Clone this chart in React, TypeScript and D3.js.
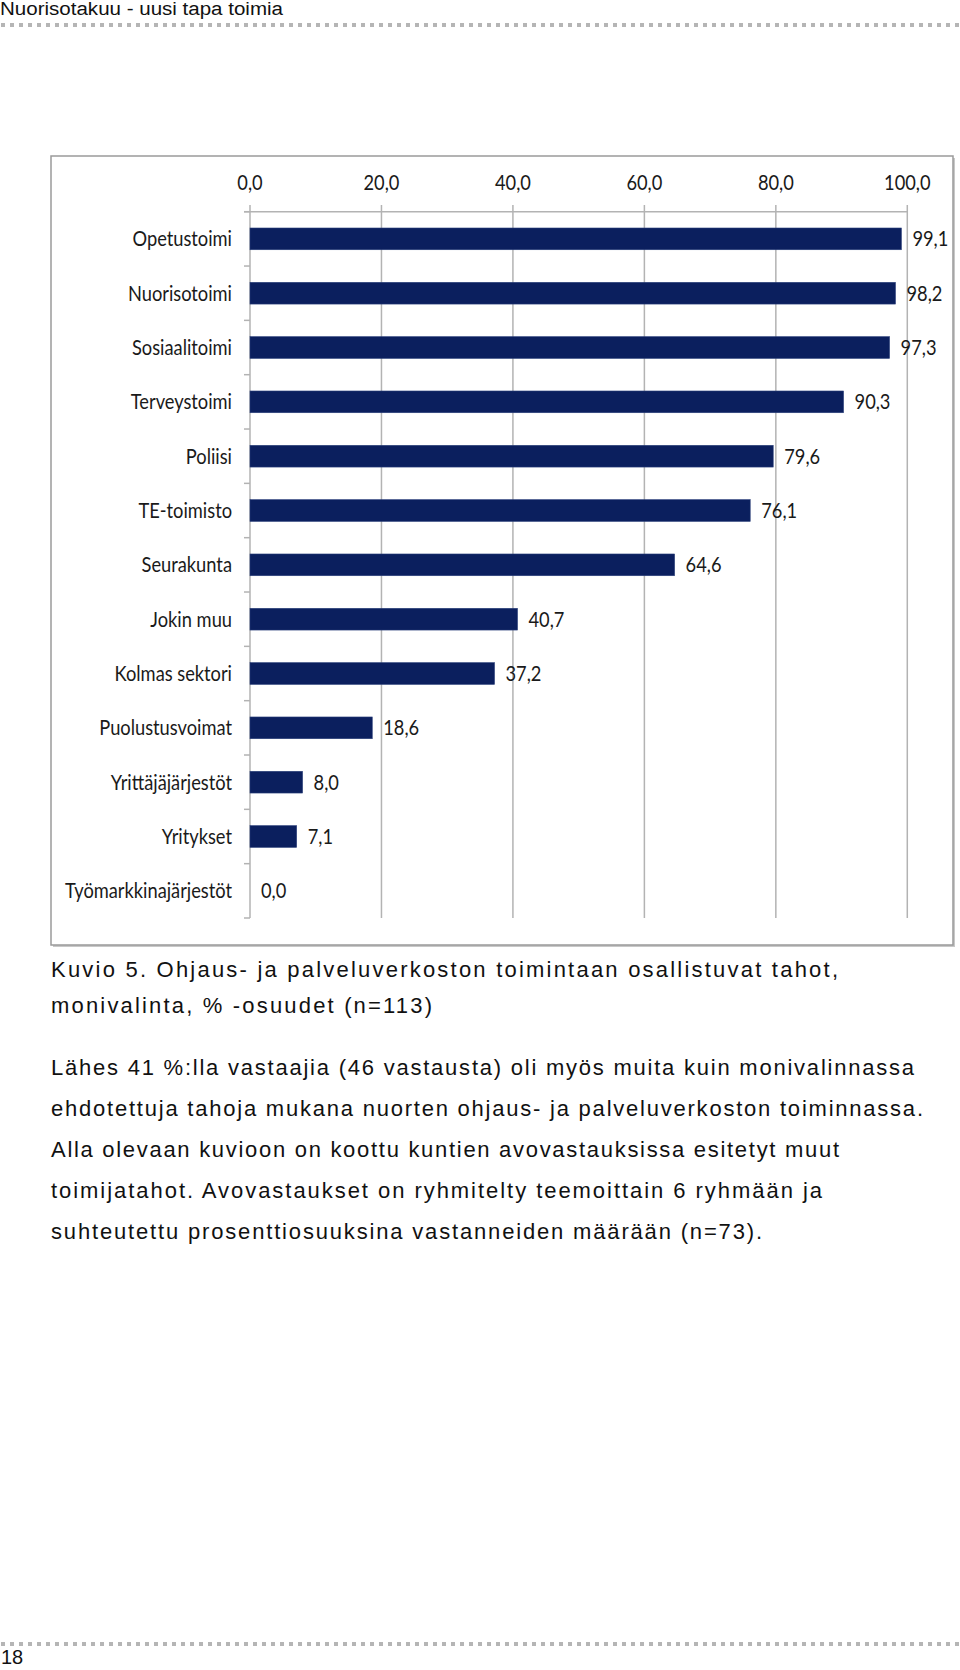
import React from "react";
import * as d3 from "d3";

const categories = [
  "Opetustoimi",
  "Nuorisotoimi",
  "Sosiaalitoimi",
  "Terveystoimi",
  "Poliisi",
  "TE-toimisto",
  "Seurakunta",
  "Jokin muu",
  "Kolmas sektori",
  "Puolustusvoimat",
  "Yrittäjäjärjestöt",
  "Yritykset",
  "Työmarkkinajärjestöt",
];
const values = [99.1, 98.2, 97.3, 90.3, 79.6, 76.1, 64.6, 40.7, 37.2, 18.6, 8.0, 7.1, 0.0];
const tickValues = [0, 20, 40, 60, 80, 100];

const headerText = "Nuorisotakuu - uusi tapa toimia";
const captionLines = [
  "Kuvio 5. Ohjaus- ja palveluverkoston toimintaan osallistuvat tahot,",
  "monivalinta, % -osuudet (n=113)",
];
const captionWidths = [787, 381];
const paragraphLines = [
  "Lähes 41 %:lla vastaajia (46 vastausta) oli myös muita kuin monivalinnassa",
  "ehdotettuja tahoja mukana nuorten ohjaus- ja palveluverkoston toiminnassa.",
  "Alla olevaan kuvioon on koottu kuntien avovastauksissa esitetyt muut",
  "toimijatahot. Avovastaukset on ryhmitelty teemoittain 6 ryhmään ja",
  "suhteutettu prosenttiosuuksina vastanneiden määrään (n=73).",
];
const paragraphWidths = [863, 872, 788, 771, 711];
const pageNumber = "18";

const fmt = (v: number) => d3.format(".1f")(v).replace(".", ",");

const W = 960;
const H = 1670;

export default function App() {
  const x = d3.scaleLinear().domain([0, 100]).range([250, 907.3]);
  const y = d3
    .scaleBand<string>()
    .domain(categories)
    .range([211.7, 918])
    .paddingInner(0.6)
    .paddingOuter(0.3);
  const step = y.step();
  const bw = y.bandwidth();
  const sx = 0.87;
  const chartFont = "Lato, 'Open Sans', sans-serif";
  const bodyFont = "'Liberation Sans', Arial, sans-serif";
  const dashes = d3.range(1, W, 9);
  const boundaries = d3.range(categories.length + 1).map((i) => 211.7 + i * step);

  return (
    <svg
      width={W}
      height={H}
      viewBox={`0 0 ${W} ${H}`}
      style={{ position: "absolute", left: 0, top: 0, background: "#fff" }}
    >
      <rect x={0} y={0} width={W} height={H} fill="#fff" />
      {/* header */}
      <text
        x={0}
        y={15}
        fontFamily={bodyFont}
        fontSize={18}
        fill="#111"
        textLength={283}
        lengthAdjust="spacingAndGlyphs"
      >
        {headerText}
      </text>
      {dashes.map((d) => (
        <rect key={"h" + d} x={d} y={23} width={4} height={4} fill="#b5b5b5" />
      ))}

      {/* chart frame */}
      <rect x={53} y={158} width={902} height={789} fill="#c8c8c8" />
      <rect x={51} y={156} width={902} height={789} fill="#fff" stroke="#9a9a9a" strokeWidth={1.5} />

      {/* gridlines */}
      {tickValues.map((t) => (
        <line
          key={"g" + t}
          x1={x(t)}
          x2={x(t)}
          y1={205}
          y2={918}
          stroke="#b3b3b3"
          strokeWidth={1.5}
        />
      ))}
      {/* top axis line */}
      <line x1={244} x2={x(100)} y1={211.7} y2={211.7} stroke="#b3b3b3" strokeWidth={1.5} />
      {/* category ticks */}
      {boundaries.map((b, i) => (
        <line key={"ct" + i} x1={244} x2={250} y1={b} y2={b} stroke="#b3b3b3" strokeWidth={1.5} />
      ))}
      {/* tick labels */}
      {tickValues.map((t) => (
        <text
          key={"tl" + t}
          transform={`translate(${x(t)},190) scale(${sx},1)`}
          textAnchor="middle"
          fontFamily={chartFont}
          fontSize={21}
          fill="#1a1a1a"
        >
          {fmt(t)}
        </text>
      ))}
      {/* bars */}
      {categories.map((c, i) => {
        const yc = (y(c) as number) + bw / 2;
        return (
          <g key={c}>
            <rect
              x={x(0)}
              y={y(c) as number}
              width={x(values[i]) - x(0)}
              height={bw}
              fill="#0b1f5e"
              stroke="#2a3f7a"
              strokeWidth={0.6}
            />
            <text
              transform={`translate(232,${yc + 7.5}) scale(${sx},1)`}
              textAnchor="end"
              fontFamily={chartFont}
              fontSize={21}
              fill="#1a1a1a"
            >
              {c}
            </text>
            <text
              transform={`translate(${x(values[i]) + 11},${yc + 7.5}) scale(${sx},1)`}
              textAnchor="start"
              fontFamily={chartFont}
              fontSize={21}
              fill="#1a1a1a"
            >
              {fmt(values[i])}
            </text>
          </g>
        );
      })}

      {/* caption */}
      {captionLines.map((l, i) => (
        <text
          key={"c" + i}
          x={51}
          y={977 + i * 36}
          fontFamily={bodyFont}
          fontSize={22}
          fill="#111"
          textLength={captionWidths[i]}
          lengthAdjust="spacing"
        >
          {l}
        </text>
      ))}
      {paragraphLines.map((l, i) => (
        <text
          key={"p" + i}
          x={51}
          y={1075 + i * 41}
          fontFamily={bodyFont}
          fontSize={22}
          fill="#111"
          textLength={paragraphWidths[i]}
          lengthAdjust="spacing"
        >
          {l}
        </text>
      ))}

      {/* footer */}
      {dashes.map((d) => (
        <rect key={"f" + d} x={d} y={1642} width={4} height={4} fill="#b5b5b5" />
      ))}
      <text x={1} y={1664} fontFamily={bodyFont} fontSize={20} fill="#111">
        {pageNumber}
      </text>
    </svg>
  );
}
